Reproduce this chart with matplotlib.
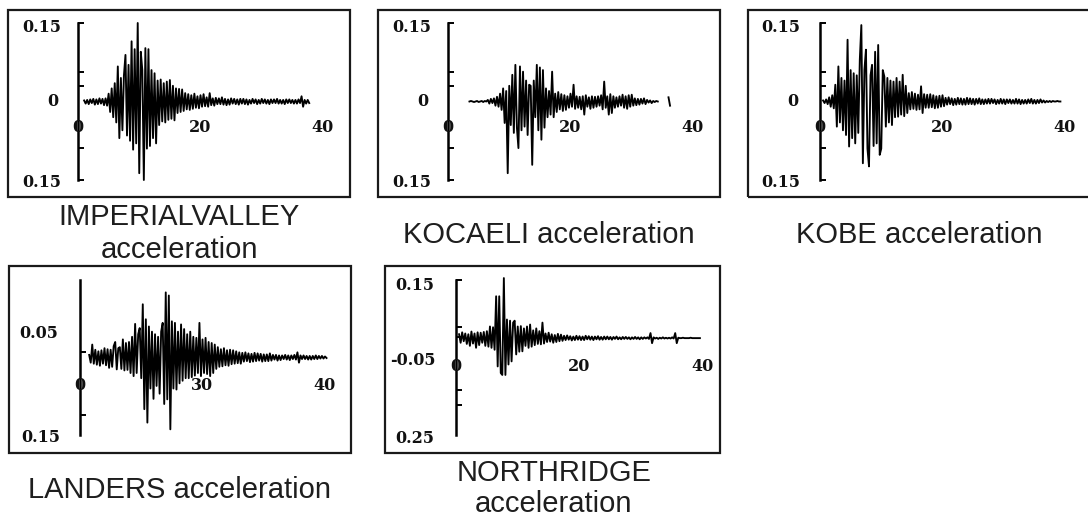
import matplotlib
matplotlib.use("Agg")
import matplotlib.pyplot as plt
from matplotlib.patches import Rectangle
import numpy as np

# sampling of the digitised records (s)
DT = 0.25

# accelerations, in milli-g, 4 samples per second
# IMPERIAL VALLEY, starts at t = 1.0 s
imperial_t0 = 1.0
imperial_mg = [
    2, -4, 3, -5,   4, -3, 5, -6,   4, -5, 6, -4,   5, -7, 6, -8,
    15, -20, 25, -30,   35, -40, 67, -70,   45, -55, 50, 89,   -65, 70, -75, 115,
    -92, 100, -80, 150,   -137, 95, 60, -150,   102, -90, 100, -85,   60, -70, 54, -80,
    40, -45, 42, -38,   35, -40, 38, -35,   41, -33, 30, -36,   25, -22, 24, -20,
    23, -18, 16, -15,   14, -16, 12, -14,   15, -12, 10, -13,   12, -10, 14, -9,
    8, -10, 16, -7,   6, -8, 7, -5,   6, -5, 8, -6,   5, -7, 4, -6,
    6, -4, 5, -5,   4, -6, 5, -4,   5, -5, 4, -6,   3, -4, 5, -3,
    4, -5, 3, -4,   5, -3, 4, -4,   3, -5, 4, -3,   4, -3, 5, -4,
    3, -4, 3, -5,   4, -3, 4, -3,   3, -4, 3, -4,   4, -3, 10, -10,
    3, -4, 3, -3,
]

# KOCAELI, starts at t = 3.5 s (nan = no trace drawn)
kocaeli_t0 = 3.5
kocaeli_mg = [
    0, 1, 0, -1,   0, 1, -1, 0,   1, -1, 1, 0,   3, -4, 5, -3,
    6, -8, 9, -10,   15, -16, 25, -41,   20, -137, 30, -45,   51, -60, 70, -50,
    -89, 67, -55, 57,   -48, 40, -64, 32,   30, -121, 40, -30,   70, -55, 65, -73,
    60, -50, 25, -30,   20, -25, 57, -30,   15, -20, 18, -15,   14, -18, 12, -16,
    10, -12, 15, -10,   32, -14, 10, -12,   9, -15, 10, -25,   12, -10, 8, -14,
    10, -12, 9, -10,   10, -8, 12, -15,   38, -12, 10, -25,   14, -22, 10, -12,
    8, -10, 10, -8,   13, -12, 10, -14,   12, -10, 13, -8,   6, -7, 5, -6,
    5, -4, 6, -5,   3, -2, 2, -3,   1, -1, 1, 0,   np.nan, np.nan, np.nan, np.nan,
    np.nan, np.nan, 8, -8,
]

# KOBE, starts at t = 0.5 s
kobe_t0 = 0.5
kobe_mg = [
    2, -3, 4, -5,   8, -10, 12, -13,   32, -48, 67, -40,   45, -55, 40, -64,
    118, -86, 60, -70,   54, -80, 50, -60,   80, 146, -118, 60,   99, -90, -124, 50,
    70, -85, 95, -80,   108, -102, -90, 60,   48, -48, 45, -40,   40, -45, 38, -30,
    45, -29, 38, -25,   51, -28, 30, -22,   16, -15, 18, -14,   15, -16, 13, -15,
    29, -22, 14, -12,   13, -12, 14, -11,   12, -13, 10, -12,   11, -10, 12, -9,
    7, -6, 8, -5,   6, -7, 5, -6,   7, -5, 6, -6,   5, -6, 7, -5,
    6, -5, 5, -6,   5, -4, 6, -5,   4, -5, 4, -4,   5, -4, 5, -3,
    4, -5, 3, -4,   5, -4, 4, -5,   4, -3, 4, -4,   3, -4, 5, -4,
    4, -5, 3, -4,   3, -4, 4, -3,   5, -4, 3, -4,   3, -3, 4, -2,
    2, -2, 1, -1,   1, -1, 1, 0,   0, 1, 0, 0,
]

# LANDERS, starts at t = 1.5 s
landers_t0 = 1.5
landers_mg = [
    5, -10, 25, -12,   15, -14, 12, -16,   14, -12, 18, -15,   16, -20, 15, -18,
    22, 30, -23, 18,   20, -22, 35, -25,   28, -24, 30, -30,   40, -36, 65, -30,
    45, 57, -40, 103,   -100, 74, -126, 60,   -60, 50, -80, 45,   -55, 40, -70, 50,
    67, -90, 126, -81,   120, -139, 70, -60,   67, -62, 50, -50,   64, -45, 55, -40,
    45, -40, 50, -38,   40, -35, 38, -30,   67, -36, 35, -30,   38, -32, 30, -36,
    28, -30, 25, -22,   20, -18, 16, -17,   18, -15, 14, -16,   15, -13, 14, -12,
    12, -11, 10, -12,   9, -8, 10, -7,   8, -9, 7, -8,   9, -7, 8, -6,
    7, -8, 6, -7,   6, -7, 8, -6,   5, -4, 5, -6,   4, -5, 4, -3,
    5, -4, 4, -5,   4, -3, 5, -4,   10, -10, 4, -3,   4, -3, 3, -4,
    3, -4, 3, -3,   4, -3, 3, -2,   3, -2, 2, -1,
]

# NORTHRIDGE, starts at t = 0.5 s
northridge_t0 = 0.5
northridge_mg = [
    10, -12, 15, -8,   12, -15, 10, -20,   17, -14, 12, -25,   15, -18, 14, -12,
    16, -20, 18, -22,   30, -25, 28, -30,   108, -73, 108, -90,   -95, 155, -95, 48,
    -68, 45, -60, 40,   45, -42, 30, -35,   31, -34, 25, -20,   30, -25, 35, -22,
    20, -18, 25, -15,   18, -16, 40, -14,   12, -10, 14, -9,   10, -12, 8, -10,
    11, -8, 9, -7,   6, -5, 7, -4,   5, -6, 4, -5,   6, -4, 5, -5,
    4, -5, 6, -3,   5, -4, 4, -5,   4, -3, 5, -4,   3, -4, 4, -3,
    4, -3, 3, -4,   3, -2, 4, -3,   2, -3, 3, -2,   3, -2, 2, -3,
    2, -2, 3, -2,   2, -3, 2, -2,   2, -1, 2, -2,   13, -13, 2, -1,
    1, -2, 1, -1,   2, -1, 1, -1,   1, -1, 2, -1,   13, -13, 1, 0,
    0, 1, 0, 0,   0, 0, 1, 0,   0, 0, 0, 0,   0,
]

captions = [
    ["IMPERIALVALLEY", "acceleration"],
    ["KOCAELI acceleration"],
    ["KOBE acceleration"],
    ["LANDERS acceleration"],
    ["NORTHRIDGE", "acceleration"],
]

W, H = 1088, 519
fig = plt.figure(figsize=(W / 100, H / 100), dpi=100)
fig.patch.set_facecolor("white")

LBL = dict(family="DejaVu Serif", weight="bold", fontsize=11.5, color="#111111")
CAP = dict(family="Liberation Sans", fontsize=21, color="#1e1e1e",
           ha="center", va="baseline")


def px_rect(x1, y1, x2, y2):
    return [x1 / W, 1 - y2 / H, (x2 - x1) / W, (y2 - y1) / H]


def frame(x1, y1, x2, y2):
    r = Rectangle((x1 / W, 1 - y2 / H), (x2 - x1) / W, (y2 - y1) / H,
                  transform=fig.transFigure, fill=False, lw=1.6, ec="#1a1a1a")
    fig.add_artist(r)


def trace_axes(x0, x40, ytop, ybot, ylim, ticks):
    ax = fig.add_axes(px_rect(x0, ytop, x40, ybot))
    ax.set_xlim(0, 40)
    ax.set_ylim(*ylim)
    ax.patch.set_alpha(0)
    for s in ["top", "right", "bottom"]:
        ax.spines[s].set_visible(False)
    ax.spines["left"].set_linewidth(1.8)
    ax.set_xticks([])
    ax.set_yticks(ticks)
    ax.set_yticklabels([])
    ax.tick_params(axis="y", direction="in", length=4, width=1.4)
    return ax


def label(ax, s, y, dx=0, x=0):
    ax.annotate(s, xy=(x, y), xytext=(dx, 0), textcoords="offset pixels",
                ha="center", va="center", annotation_clip=False, **LBL)


def draw(ax, t0, mg):
    a = np.array(mg, dtype=float) / 1000.0
    t = t0 + DT * np.arange(len(a))
    ax.plot(t, a, color="black", lw=1.35, clip_on=False)


# ---- top row: +-0.15 g
top_panels = [
    (8, 350, 78, 323, imperial_t0, imperial_mg, -36, -25),
    (378, 720, 448, 693, kocaeli_t0, kocaeli_mg, -36, -25),
    (748, 1092, 820, 1065, kobe_t0, kobe_mg, -39, -27),
]
for i, (bx1, bx2, x0, x40, t0, mg, dx15, dx0) in enumerate(top_panels):
    frame(bx1, 10, bx2, 197)
    ax = trace_axes(x0, x40, 23, 180, (-0.15, 0.15),
                    [0.15, 0.056, 0.029, -0.089, -0.15])
    draw(ax, t0, mg)
    label(ax, "0.15", 0.142, dx15)
    label(ax, "0.15", -0.154, dx15)
    label(ax, "0", 0.0, dx0)
    for xv, s in zip([0, 20, 40], ["0", "20", "40"]):
        label(ax, s, -0.05, x=xv)
    cx = (bx1 + min(bx2, 1090)) / 2
    lines = captions[i]
    if len(lines) == 2:
        fig.text(cx / W, 1 - 225 / H, lines[0], **CAP)
        fig.text(cx / W, 1 - 258 / H, lines[1], **CAP)
    else:
        fig.text(cx / W, 1 - 243 / H, lines[0], **CAP)

# ---- LANDERS
frame(9, 266, 351, 453)
ax = trace_axes(80, 325, 280, 435, (-0.15, 0.15), [0.011, -0.111])
draw(ax, landers_t0, landers_mg)
label(ax, "0.05", 0.047, -41)
label(ax, "0.15", -0.154, -39)
for xv, s in zip([0, 20, 40], ["0", "30", "40"]):
    label(ax, s, -0.055, x=xv)
fig.text(180 / W, 1 - 498 / H, captions[3][0], **CAP)

# ---- NORTHRIDGE
frame(385, 266, 720, 453)
ax = trace_axes(456, 703, 280, 435, (-0.25, 0.15),
                [0.15, 0.029, 0.003, -0.134, -0.173])
draw(ax, northridge_t0, northridge_mg)
label(ax, "0.15", 0.137, -41)
label(ax, "-0.05", -0.057, -43)
label(ax, "0.25", -0.258, -41)
for xv, s in zip([0, 20, 40], ["0", "20", "40"]):
    label(ax, s, -0.072, x=xv)
fig.text(554 / W, 1 - 481 / H, captions[4][0], **CAP)
fig.text(554 / W, 1 - 512 / H, captions[4][1], **CAP)

fig.savefig("out.png", dpi=100)
